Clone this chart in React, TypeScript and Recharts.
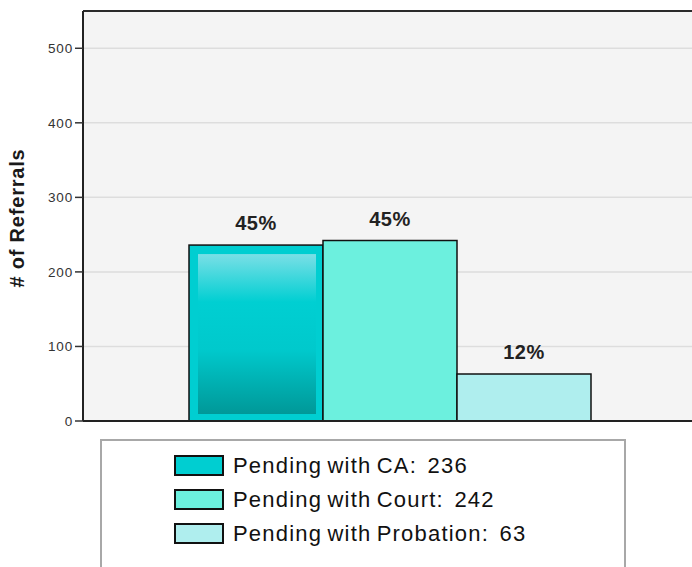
import React from 'react';
import { BarChart, Bar, XAxis, YAxis, CartesianGrid, ReferenceLine, LabelList } from 'recharts';

const categories = ['Referrals'];
const seriesKeys = ['ca', 'court', 'probation'];
const seriesNames = ['Pending with CA', 'Pending with Court', 'Pending with Probation'];
const seriesValues = [236, 242, 63];
const seriesColors = ['#00CED1', '#6CF0DE', '#AFEEEE'];
const pctLabels = ['45%', '45%', '12%'];
const yTicks = [0, 100, 200, 300, 400, 500];

const data = categories.map((name) => {
  const row: Record<string, string | number> = { name };
  seriesKeys.forEach((k, i) => { row[k] = seriesValues[i]; });
  return row;
});

const FONT = '"Liberation Sans", Arial, sans-serif';

// CA bar has an inner gradient panel
const GlossBar = (props: any) => {
  const { x, y, width, height, fill } = props;
  if (!height || height <= 0) return null;
  return (
    <g>
      <rect x={x} y={y} width={width} height={height} fill={fill} stroke="#111" strokeWidth={1.5} />
      <rect x={x + 9} y={y + 9} width={Math.max(0, width - 16)} height={Math.max(0, height - 16)} fill="url(#caGrad)" />
    </g>
  );
};

const YTitle = (props: any) => {
  const { viewBox } = props;
  const cy = viewBox.y + viewBox.height / 2 + 2;
  return (
    <text x={24} y={cy} transform={`rotate(-90 24 ${cy})`} textAnchor="middle"
      style={{ fontSize: 20, fontWeight: 'bold', fill: '#1a1a1a', fontFamily: FONT, letterSpacing: 0.8 }}>
      # of Referrals
    </text>
  );
};

const App: React.FC = () => {
  return (
    <div style={{ position: 'absolute', left: 0, top: 0, width: 692, height: 567, overflow: 'hidden', background: '#fff', fontFamily: FONT }}>
      <BarChart width={700} height={567} data={data} barGap={0} barSize={134}
        margin={{ top: 11, right: 4, bottom: 146, left: 0 }} style={{ fontFamily: FONT }}>
        <defs>
          <linearGradient id="caGrad" x1="0" y1="0" x2="0" y2="1">
            <stop offset="0%" stopColor="#7ADFE6" />
            <stop offset="30%" stopColor="#00CFD2" />
            <stop offset="60%" stopColor="#00C9CC" />
            <stop offset="100%" stopColor="#009898" />
          </linearGradient>
        </defs>
        <CartesianGrid vertical={false} fill="#F4F4F4" stroke="#DDDDDD" strokeWidth={1.5} />
        <XAxis dataKey="name" hide />
        <YAxis width={83} domain={[0, 550]} ticks={yTicks} interval={0}
          tick={{ fontSize: 13.5, fill: '#333', letterSpacing: 0.8 }} tickSize={8}
          tickLine={{ stroke: '#333', strokeWidth: 1.5 }}
          axisLine={{ stroke: '#222', strokeWidth: 2 }}
          label={<YTitle />} />
        <ReferenceLine y={550} stroke="#2a2a2a" strokeWidth={2} />
        {seriesKeys.map((k, i) => (
          <Bar key={k} dataKey={k} name={seriesNames[i]} fill={seriesColors[i]}
            stroke="#111" strokeWidth={1.5} isAnimationActive={false}
            shape={i === 0 ? GlossBar : undefined}>
            <LabelList position="top" offset={15} formatter={() => pctLabels[i]}
              style={{ fontSize: 20, fontWeight: 'bold', fill: '#222', letterSpacing: 0.5 }} />
          </Bar>
        ))}
        <ReferenceLine y={0} stroke="#222" strokeWidth={2} />
      </BarChart>
      <div style={{ position: 'absolute', left: 100, top: 439, width: 522, height: 140, border: '2px solid #A8A8A8', background: '#fff' }}>
        {seriesNames.map((n, i) => (
          <div key={n} style={{ position: 'absolute', left: 72, top: 14 + i * 34, height: 21, display: 'flex', alignItems: 'center' }}>
            <div style={{ width: 46, height: 17, border: '2px solid #111', background: seriesColors[i] }} />
            <span style={{ marginLeft: 9, fontSize: 22, color: '#111', whiteSpace: 'pre', lineHeight: '21px', letterSpacing: 1.2, wordSpacing: -2 }}>
              {`${n}:  ${seriesValues[i]}`}
            </span>
          </div>
        ))}
      </div>
    </div>
  );
};

export default App;
